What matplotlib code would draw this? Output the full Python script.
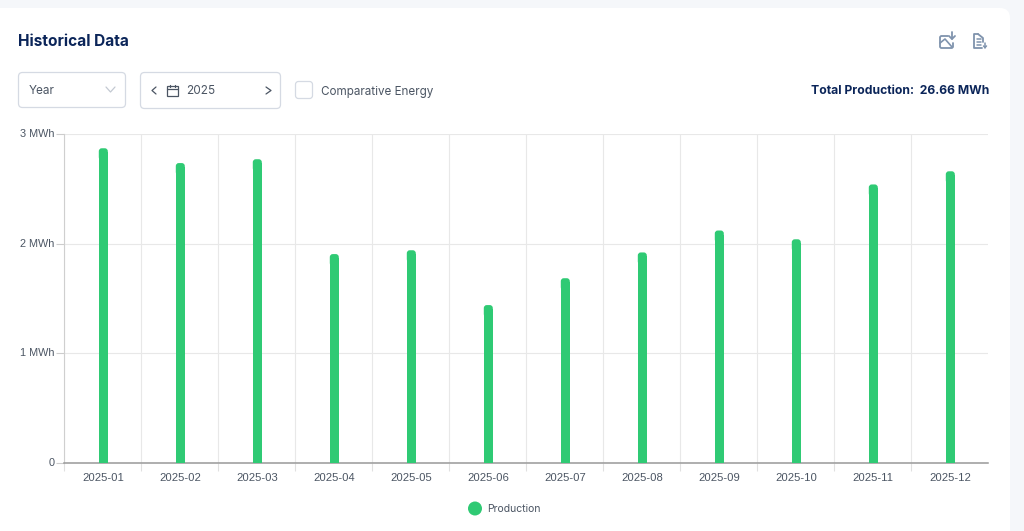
import matplotlib
matplotlib.use("Agg")
import matplotlib.pyplot as plt
from matplotlib.patches import FancyBboxPatch, Rectangle, Circle
from matplotlib.transforms import ScaledTranslation

W, H = 1024, 531

months = ["2025-01", "2025-02", "2025-03", "2025-04", "2025-05", "2025-06",
          "2025-07", "2025-08", "2025-09", "2025-10", "2025-11", "2025-12"]
production = [2.87, 2.735, 2.77, 1.905, 1.94, 1.44, 1.685, 1.92, 2.12, 2.04, 2.54, 2.66]
y_ticks = [0, 1, 2, 3]
y_labels = ["0", "1 MWh", "2 MWh", "3 MWh"]

NAVY = "#0b2559"
GREY = "#4b5563"
BORDER = "#d5dae3"
GREEN = "#2fca74"
ICON = "#7f93ad"
UI_FONT = ["Inter", "DejaVu Sans"]


def box(ui, x0, y0, x1, y1, r=4, fc="white", ec=BORDER, lw=0.9, z=1):
    ui.add_patch(FancyBboxPatch((x0, y0), x1 - x0, y1 - y0, boxstyle=f"round,pad=0,rounding_size={r}",
                                fc=fc, ec=ec, lw=lw, zorder=z))


def line(ui, xs, ys, color=GREY, lw=0.9):
    ui.plot(xs, ys, color=color, lw=lw, solid_capstyle="round", solid_joinstyle="round", zorder=3)


def draw_controls(ui):
    # card behind everything
    box(ui, -20, 8, 1010, 560, r=10, ec="none", lw=0)

    ui.text(18, 42, "Historical Data", fontsize=11.1, fontweight="bold", color=NAVY, family=UI_FONT, va="center")

    # period dropdown
    box(ui, 18.5, 72.5, 125.5, 107.5)
    ui.text(29, 90, "Year", fontsize=8.5, color=GREY, family=UI_FONT, va="center_baseline")
    line(ui, [106, 110.5, 115], [87, 92, 87], color="#c3c9d2")

    # year picker
    box(ui, 140.5, 72.5, 280.5, 108.5)
    line(ui, [156, 152, 156], [87, 90.5, 94])
    line(ui, [266, 271, 266], [87, 90.5, 94])
    ui.add_patch(Rectangle((167, 86), 10.5, 9.5, fc="none", ec=GREY, lw=0.9, zorder=3))
    line(ui, [167, 177.5], [89, 89])
    line(ui, [169.8, 169.8], [84.5, 87])
    line(ui, [174.8, 174.8], [84.5, 87])
    ui.text(186, 90, "2025", fontsize=8.5, color=GREY, family=UI_FONT, va="center_baseline")

    # checkbox
    box(ui, 295.5, 81.5, 312.5, 98.5, r=3)
    ui.text(321, 90, "Comparative Energy", fontsize=8.4, color=GREY, family=UI_FONT, va="center_baseline")

    ui.text(989, 90, "Total Production:  26.66 MWh", fontsize=8.75, fontweight="bold", color=NAVY,
            family=UI_FONT, va="center_baseline", ha="right")

    # export image icon, corner left open for the arrow
    line(ui, [948, 941, 940, 940, 941, 952, 953, 953], [36, 36, 37, 47, 48, 48, 47, 43], color=ICON, lw=1.3)
    line(ui, [940, 945, 952], [43, 39, 47], color=ICON, lw=1.2)
    line(ui, [952, 952], [32, 39], color=ICON, lw=1.3)
    line(ui, [949, 952, 955], [36, 39, 36], color=ICON, lw=1.3)

    # export file icon
    line(ui, [978, 974, 974, 982], [34, 34, 48, 48], color=ICON, lw=1.3)
    line(ui, [978, 983, 983], [34, 38, 42], color=ICON, lw=1.3)
    for yy in (39, 42, 45):
        line(ui, [976.5, 981], [yy, yy], color=ICON, lw=1.1)
    line(ui, [985, 985], [43, 47.5], color=ICON, lw=1.1)
    line(ui, [983.5, 985, 986.5], [46, 47.5, 46], color=ICON, lw=1.1)

    # legend
    ui.add_patch(Circle((475, 508.5), 7, fc=GREEN, ec="none", zorder=3))
    ui.text(487, 508.5, "Production", fontsize=7.5, color=GREY, family=UI_FONT, va="center")


fig = plt.figure(figsize=(W / 100, H / 100), dpi=100, facecolor="#f5f7fa")

ui = fig.add_axes([0, 0, 1, 1], zorder=0)
ui.set_xlim(0, W)
ui.set_ylim(H, 0)
ui.axis("off")
draw_controls(ui)

left, right, top, bottom = 64, 988, 134, 463
ax = fig.add_axes([left / W, 1 - bottom / H, (right - left) / W, (bottom - top) / H], zorder=1)
ax.patch.set_alpha(0)

positions = list(range(len(months)))
ax.set_xlim(-0.5, len(months) - 0.5)
ax.set_ylim(0, 3)

px_x = (len(months)) / (right - left)
px_y = 3 / (bottom - top)
bar_w = 9 * px_x
radius = 3 * px_x
shift = 0.8 * px_x

for x, v in zip(positions, production):
    # square lower part plus a rounded cap
    ax.bar(x + shift, v - 4 * px_y, width=bar_w, color=GREEN, zorder=3)
    ax.add_patch(FancyBboxPatch((x + shift - bar_w / 2, v - 12 * px_y), bar_w, 12 * px_y,
                                boxstyle=f"round,pad=0,rounding_size={radius}",
                                mutation_aspect=px_y / px_x, fc=GREEN, ec="none", zorder=3))

ax.set_yticks(y_ticks, y_labels)
ax.set_xticks([p + shift for p in positions], months)
ax.set_xticks([p - 0.5 for p in positions], minor=True)

ax.grid(axis="y", color="#e8e8e8", lw=0.8, zorder=0)
ax.grid(axis="x", which="minor", color="#e8e8e8", lw=0.8, zorder=0)
ax.grid(axis="x", which="major", visible=False)

for name in ("top", "right"):
    ax.spines[name].set_visible(False)
ax.spines["left"].set_color("#cfcfcf")
ax.spines["left"].set_linewidth(0.8)
ax.spines["bottom"].set_color("#999999")
ax.spines["bottom"].set_linewidth(1.1)

ax.tick_params(axis="y", length=6, width=0.8, color="#cccccc", pad=1, labelsize=7.8, labelcolor=GREY)
ax.tick_params(axis="x", which="major", length=0, pad=7.5, labelsize=8.1, labelcolor=GREY)
ax.tick_params(axis="x", which="minor", length=6, width=0.8, color="#e0e0e0")
for lbl in ax.get_xticklabels() + ax.get_yticklabels():
    lbl.set_family("Liberation Sans")

# y labels sit a pixel above their gridlines
nudge = ScaledTranslation(0, 1 / 100, fig.dpi_scale_trans)
for lbl in ax.get_yticklabels():
    lbl.set_transform(lbl.get_transform() + nudge)

fig.savefig("out.png", dpi=100, facecolor=fig.get_facecolor())
